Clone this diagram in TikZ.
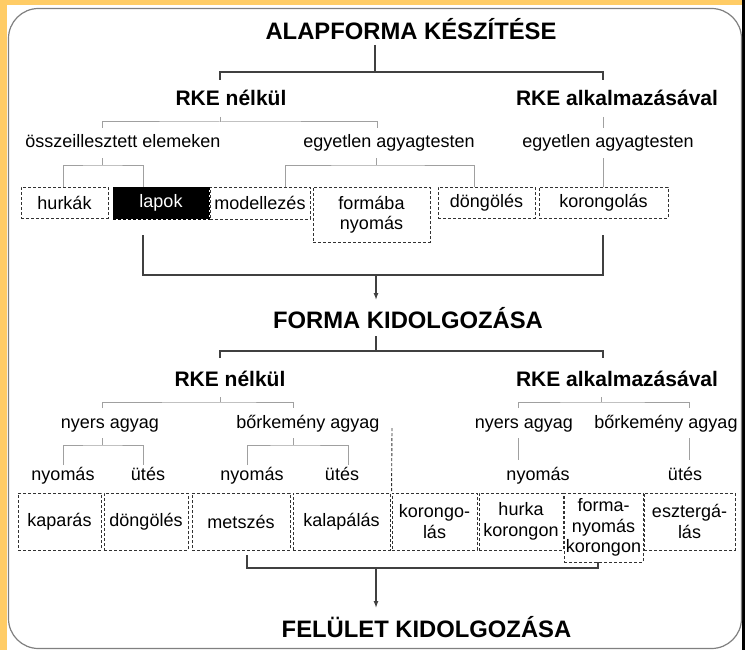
\documentclass[tikz,border=0pt]{standalone}
\usepackage{fontspec}
\setmainfont{Liberation Sans}
\usetikzlibrary{arrows.meta}
\definecolor{frameorange}{RGB}{255,204,102}
\definecolor{panelline}{RGB}{128,128,128}
\definecolor{darkline}{RGB}{64,64,64}
\definecolor{lightline}{RGB}{160,160,160}
\definecolor{boxline}{RGB}{50,50,50}
\newcommand{\titlefont}{\fontsize{23.8}{26}\selectfont\bfseries}
\newcommand{\headfont}{\fontsize{21}{24}\selectfont\bfseries}
\newcommand{\labelfont}{\fontsize{18}{20.5}\selectfont}

\begin{document}
\begin{tikzpicture}[x=1pt,y=1pt,yscale=-1,
  dline/.style={draw=darkline,line width=1.3pt},
  gline/.style={draw=lightline,line width=1pt},
  dbox/.style={draw=boxline,dash pattern=on 3pt off 2pt,line width=0.9pt,inner sep=0pt,align=center,font=\labelfont},
  ttl/.style={anchor=base,inner sep=0pt,font=\titlefont},
  hd/.style={anchor=base,inner sep=0pt,font=\headfont},
  lbl/.style={anchor=base,inner sep=0pt,font=\labelfont}]
\useasboundingbox (0,0) rectangle (752,650);

%Background and frame
\fill[frameorange] (0,0) rectangle (752,650);
\fill[white] (7,5) rectangle (752,650);
\fill[white] (744,0) rectangle (752,650);
\draw[black,line width=2.6pt] (743.5,0) -- (743.5,650);
\draw[panelline,line width=1.2pt,rounded corners=30pt] (8.5,8.5) rectangle (741.5,648.5);

% Text Node
\node[ttl] (alap) at (411,40) {ALAPFORMA KÉSZÍTÉSE};
% Text Node
\node[hd] (rkea) at (231,106) {RKE nélkül};
% Text Node
\node[hd] (rkeb) at (617,106) {RKE alkalmazásával};
% Text Node
\node[lbl] (osszeill) at (123,147) {összeillesztett elemeken};
% Text Node
\node[lbl] (egyeta) at (389,147) {egyetlen agyagtesten};
% Text Node
\node[lbl] (egyetb) at (608,147) {egyetlen agyagtesten};

%Boxes, first row
\node[dbox,minimum width=87pt,minimum height=31pt] (hurkak) at (64.5,202.5) {hurkák};
\node[dbox,draw=black,fill=black,text=white,minimum width=96pt,minimum height=32pt] (lapok) at (161,203) {lapok};
\node[dbox,minimum width=100pt,minimum height=32pt] (modell) at (260,203) {modellezés};
\node[dbox,minimum width=117pt,minimum height=55pt] (formaba) at (371.5,214.5) {formába\\nyomás};
\node[dbox,minimum width=97pt,minimum height=31pt] (dongola) at (486.5,202.5) {döngölés};
\node[dbox,minimum width=129pt,minimum height=31pt] (korongola) at (603.5,202.5) {korongolás};

%Bracket points, first part
\coordinate (a0) at (375,45);
\coordinate (a1) at (375,72);
\coordinate (ka) at (220,80);
\coordinate (kb) at (603,80);
\coordinate (b0) at (220,117);
\coordinate (b1) at (220,122);
\coordinate (bl) at (102,128);
\coordinate (br) at (377,128);
\coordinate (c0) at (603,117);
\coordinate (c1) at (603,128);
\coordinate (d0) at (102,158);
\coordinate (d1) at (102,165);
\coordinate (dl) at (63,187);
\coordinate (dr) at (143,187);
\coordinate (e0) at (376,158);
\coordinate (e1) at (376,165);
\coordinate (el) at (285,187);
\coordinate (er) at (474,187);
\coordinate (f0) at (603,158);
\coordinate (f1) at (603,187);
\coordinate (g1) at (143,235);
\coordinate (g2) at (603,235);
\coordinate (g3) at (376,275);
\coordinate (g4) at (376,300);

%Straight Lines
\draw[dline] (a0) -- (a1) (ka) |- (a1) -| (kb);
\draw[gline] (b0) -- (b1) (bl) |- (b1) -| (br);
\draw[gline] (c0) -- (c1);
\draw[gline] (d0) -- (d1) (dl) |- (d1) -| (dr);
\draw[gline] (e0) -- (e1) (el) |- (e1) -| (er);
\draw[gline] (f0) -- (f1);
\draw[dline] (g1) |- (g3) -| (g2);
\draw[dline,-{Latex[length=7pt,width=5pt]}] (g3) -- (g4);

% Text Node
\node[ttl] (formak) at (408,328) {FORMA KIDOLGOZÁSA};
% Text Node
\node[hd] (rkec) at (230,386) {RKE nélkül};
% Text Node
\node[hd] (rked) at (617,386) {RKE alkalmazásával};
% Text Node
\node[lbl] (nyersa) at (110,428) {nyers agyag};
% Text Node
\node[lbl] (bora) at (308,428) {bőrkemény agyag};
% Text Node
\node[lbl] (nyersb) at (524,428) {nyers agyag};
% Text Node
\node[lbl] (borb) at (666,428) {bőrkemény agyag};
% Text Node
\node[lbl] (nyoma) at (63,480) {nyomás};
% Text Node
\node[lbl] (utesa) at (148,480) {ütés};
% Text Node
\node[lbl] (nyomb) at (252,480) {nyomás};
% Text Node
\node[lbl] (utesb) at (342,480) {ütés};
% Text Node
\node[lbl] (nyomc) at (538,480) {nyomás};
% Text Node
\node[lbl] (utesc) at (685,480) {ütés};

%Boxes, second row
\node[dbox,minimum width=83pt,minimum height=57pt] (kaparas) at (59.5,521.5) {kaparás};
\node[dbox,minimum width=84pt,minimum height=57pt] (dongolb) at (146,521.5) {döngölés};
\node[dbox,minimum width=98pt,minimum height=57pt] (metszes) at (241,521.5) {metszés};
\node[dbox,minimum width=97pt,minimum height=57pt] (kalapal) at (341.5,521.5) {kalapálás};
\node[dbox,minimum width=85pt,minimum height=57pt] (korongolb) at (434.5,521.5) {korongo-\\lás};
\node[dbox,minimum width=84pt,minimum height=57pt] (hurka) at (521,521.5) {hurka\\korongon};
\node[dbox,minimum width=79pt,minimum height=69pt] (formany) at (603.5,527.5) {forma-\\nyomás\\korongon};
\node[dbox,minimum width=91pt,minimum height=57pt] (eszterg) at (689.5,521.5) {esztergá-\\lás};

%Bracket points, second part
\coordinate (h0) at (376,336);
\coordinate (h1) at (376,351);
\coordinate (ha) at (220,358);
\coordinate (hb) at (603,358);
\coordinate (i0) at (220,397);
\coordinate (i1) at (220,402);
\coordinate (il) at (102,408);
\coordinate (ir) at (293,408);
\coordinate (j0) at (601,397);
\coordinate (j1) at (601,402);
\coordinate (jl) at (518,408);
\coordinate (jr) at (689,408);
\coordinate (m0) at (102,438);
\coordinate (m1) at (102,445);
\coordinate (ml) at (63,465);
\coordinate (mr) at (143,465);
\coordinate (n0) at (293,438);
\coordinate (n1) at (293,445);
\coordinate (nl) at (247,465);
\coordinate (nr) at (348,465);
\coordinate (p0) at (518,438);
\coordinate (p1) at (518,460);
\coordinate (q0) at (689,438);
\coordinate (q1) at (689,460);
\coordinate (sep) at (392,428);
\coordinate (s1) at (247,555);
\coordinate (s2) at (598,562);
\coordinate (s3) at (376,568);
\coordinate (s4) at (376,608);

%Straight Lines
\draw[dline] (h0) -- (h1) (ha) |- (h1) -| (hb);
\draw[gline] (i0) -- (i1) (il) |- (i1) -| (ir);
\draw[gline] (j0) -- (j1) (jl) |- (j1) -| (jr);
\draw[gline] (m0) -- (m1) (ml) |- (m1) -| (mr);
\draw[gline] (n0) -- (n1) (nl) |- (n1) -| (nr);
\draw[gline] (p0) -- (p1);
\draw[gline] (q0) -- (q1);
\draw[draw=boxline,dash pattern=on 3pt off 2pt,line width=0.9pt] (sep) -- (korongolb.north west);
\draw[dline] (s1) |- (s3) -| (s2);
\draw[dline,-{Latex[length=7pt,width=5pt]}] (s3) -- (s4);

% Text Node
\node[ttl] (felulet) at (426.5,637) {FELÜLET KIDOLGOZÁSA};

\end{tikzpicture}
\end{document}
